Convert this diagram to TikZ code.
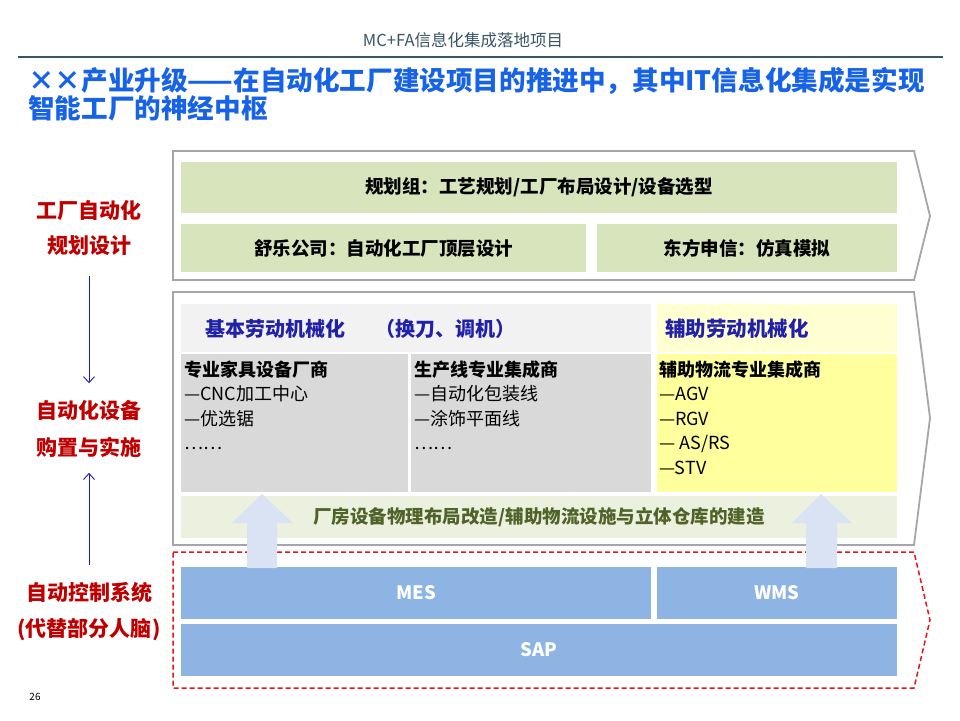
\documentclass[tikz,border=0pt]{standalone}
\usepackage{fontspec}
\setmainfont{Noto Sans CJK SC}
\usetikzlibrary{arrows.meta}
\definecolor{chevgray}{HTML}{A6A6A6}
\definecolor{reddash}{HTML}{E3161B}
\definecolor{greenbar}{HTML}{D7E4BC}
\definecolor{lightgreen}{HTML}{EBF1DE}
\definecolor{grayhead}{HTML}{F2F2F2}
\definecolor{graybox}{HTML}{D9D9D9}
\definecolor{yellowhead}{HTML}{FFFFD2}
\definecolor{yellowbox}{HTML}{FFFF9E}
\definecolor{sysblue}{HTML}{8EB4E3}
\definecolor{titleblue}{HTML}{1763E8}
\definecolor{darkblue}{HTML}{2020A8}
\definecolor{labelred}{HTML}{C00000}
\definecolor{olive}{HTML}{4F6228}
\definecolor{headgray}{HTML}{3A5566}
\definecolor{arrowfill}{HTML}{DAE3F3}
\definecolor{thinblue}{HTML}{1A1AC0}
\tikzset{
  chev/.style={draw=chevgray, line width=1.8pt, line join=miter},
  reddashed/.style={draw=reddash, line width=1.5pt, dash pattern=on 5pt off 3pt},
  box/.style={inner sep=0pt, outer sep=0pt, draw=none},
  boldtext/.style={font=\fontsize{18.5}{22}\selectfont\bfseries},
  listtext/.style={inner sep=0pt, anchor=north west, align=left, font=\fontsize{18}{24.4}\selectfont},
  sidelabel/.style={inner sep=0pt, text=labelred, font=\fontsize{21}{24}\selectfont\bfseries},
  thinarrow/.style={draw=thinblue, line width=0.9pt, -{Straight Barb[length=6pt,width=11pt]}},
  bigarrow/.style={fill=arrowfill, draw=none}
}
\begin{document}
\begin{tikzpicture}[x=1pt,y=-1pt]
\useasboundingbox[fill=white] (0,0) rectangle (960,720);

% header
\node[inner sep=0pt, text=headgray, font=\fontsize{16.5}{19}\selectfont] (hdr) at (463,40) {MC+FA信息化集成落地项目};
\draw[draw=headgray, line width=1.3pt] (18,57) -- (943,57);
\node[inner sep=0pt, anchor=base west, text=titleblue, font=\fontsize{26.6}{28}\selectfont\bfseries] (t1) at (28,90) {××产业升级——在自动化工厂建设项目的推进中，其中IT信息化集成是实现};
\node[inner sep=0pt, anchor=base west, text=titleblue, font=\fontsize{26.6}{28}\selectfont\bfseries] (t2) at (28,118) {智能工厂的神经中枢};

% chevrons
\draw[chev] (173,151) -- (914,151) -- (930,216) -- (914,280) -- (173,280) -- cycle;
\draw[chev] (173,292) -- (914,292) -- (930,418) -- (914,545) -- (173,545) -- cycle;
\draw[reddashed] (173,552) -- (914,552) -- (930,620) -- (914,688) -- (173,688) -- cycle;

% planning
\node[box, fill=greenbar, minimum width=716pt, minimum height=51pt, boldtext] (plan) at (539,187.5) {规划组：工艺规划/工厂布局设计/设备选型};
\node[box, fill=greenbar, minimum width=405pt, minimum height=48pt, boldtext] (shule) at (383.5,248) {舒乐公司：自动化工厂顶层设计};
\node[box, fill=greenbar, minimum width=300pt, minimum height=48pt, boldtext] (dongfang) at (747,248) {东方申信：仿真模拟};

% equipment
\node[box, fill=grayhead, minimum width=470pt, minimum height=48pt] (basehead) at (416,328) {};
\node[inner sep=0pt, anchor=west, text=darkblue, font=\fontsize{20}{24}\selectfont\bfseries] (basetxt) at (205,329) {基本劳动机械化\hspace{30pt}（换刀、调机）};
\node[box, fill=yellowhead, minimum width=240pt, minimum height=48pt] (auxhead) at (777,328) {};
\node[inner sep=0pt, anchor=west, text=darkblue, font=\fontsize{20.5}{24}\selectfont\bfseries] (auxtxt) at (665,329) {辅助劳动机械化};

\node[box, fill=graybox, minimum width=227pt, minimum height=138pt] (furn) at (294.5,423) {};
\node[box, fill=graybox, minimum width=240pt, minimum height=138pt] (line) at (531,423) {};
\node[box, fill=yellowbox, minimum width=240pt, minimum height=138pt] (logi) at (777,423) {};

\node[listtext] (furntxt) at (184,360.5) {\textbf{专业家具设备厂商}\\—CNC加工中心\\—优选锯\\……};
\node[listtext] (linetxt) at (414,360.5) {\textbf{生产线专业集成商}\\—自动化包装线\\—涂饰平面线\\……};
\node[listtext] (logitxt) at (659,360.5) {\textbf{辅助物流专业集成商}\\—AGV\\—RGV\\— AS/RS\\—STV};

\node[box, fill=lightgreen, minimum width=716pt, minimum height=42pt, text=olive, boldtext] (plant) at (539,517) {厂房设备物理布局改造/辅助物流设施与立体仓库的建造};

% systems
\node[box, fill=sysblue, minimum width=470pt, minimum height=52pt, text=white, boldtext] (mes) at (416,593) {MES};
\node[box, fill=sysblue, minimum width=240pt, minimum height=52pt, text=white, boldtext] (wms) at (777,593) {WMS};
\node[box, fill=sysblue, minimum width=716pt, minimum height=52pt, text=white, boldtext] (sap) at (539,650) {SAP};

% big arrows
\fill[bigarrow] (247,568) -- (247,523) -- (232,523) -- (262,494) -- (293,523) -- (277,523) -- (277,568) -- cycle;
\fill[bigarrow] (806,568) -- (806,523) -- (792,523) -- (821,494) -- (852,523) -- (837,523) -- (837,568) -- cycle;

% side labels
\node[sidelabel] (l1) at (89,210) {工厂自动化};
\node[sidelabel] (l2) at (89,246) {规划设计};
\node[sidelabel] (l3) at (89,410) {自动化设备};
\node[sidelabel] (l4) at (89,447) {购置与实施};
\node[sidelabel] (l5) at (89,592) {自动控制系统};
\node[sidelabel] (l6) at (89,630) {(代替部分人脑)};

\draw[thinarrow, shorten <=19.5pt, shorten >=16.5pt] (l2.south) -- (l3.north);
\draw[thinarrow, shorten <=16.5pt, shorten >=15.5pt] (l5.north) -- (l4.south);

\node[inner sep=0pt, font=\fontsize{10}{12}\selectfont] (page) at (35,697) {26};
\end{tikzpicture}
\end{document}
